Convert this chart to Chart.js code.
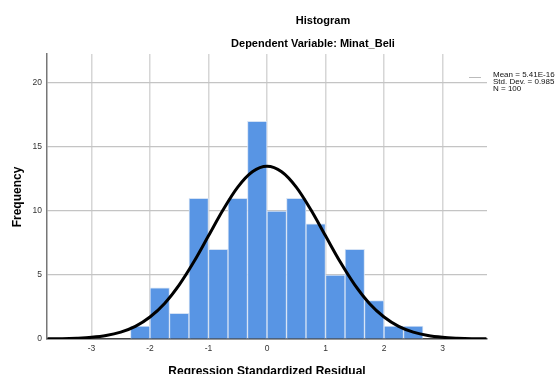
<!DOCTYPE html>
<html>
<head>
<meta charset="utf-8">
<script src="https://cdn.jsdelivr.net/npm/chart.js@4/dist/chart.umd.min.js"></script>
<style>
  html, body { margin: 0; padding: 0; background: #fff; }
  #wrap { width: 555px; height: 374px; }
</style>
</head>
<body>
<div id="wrap"><canvas id="hist" width="555" height="374"></canvas></div>
<script>
// histogram bins (centers of 1/3-wide bins) and counts
const binCenters = [-2.167, -1.833, -1.5, -1.167, -0.833, -0.5, -0.167, 0.167, 0.5, 0.833, 1.167, 1.5, 1.833, 2.167, 2.5];
const frequency = [1, 4, 2, 11, 7, 11, 17, 10, 11, 9, 5, 7, 3, 1, 1];

// normal curve
const curveX = [-3.75, -3.5, -3.25, -3, -2.75, -2.5, -2.25, -2, -1.75, -1.5, -1.25, -1, -0.75, -0.5, -0.25, 0,
                0.25, 0.5, 0.75, 1, 1.25, 1.5, 1.75, 2, 2.25, 2.5, 2.75, 3, 3.25, 3.5, 3.75];
const curveY = [0.01, 0.02, 0.06, 0.13, 0.27, 0.54, 0.99, 1.72, 2.78, 4.23, 6.03, 8.06, 10.1, 11.87, 13.07, 13.5,
                13.07, 11.87, 10.1, 8.06, 6.03, 4.23, 2.78, 1.72, 0.99, 0.54, 0.27, 0.13, 0.06, 0.02, 0.01];

const xTicks = [-3, -2, -1, 0, 1, 2, 3];
const yTicks = [0, 5, 10, 15, 20];

const statsText = ['Mean = 5.41E-16', 'Std. Dev. = 0.985', 'N = 100'];

const FONT = '"Liberation Sans", Arial, sans-serif';

const textPlugin = {
    id: 'texts',
    afterDraw(chart) {
        const ctx = chart.ctx;
        ctx.save();
        ctx.fillStyle = '#000';
        ctx.textAlign = 'center';
        ctx.textBaseline = 'middle';
        ctx.font = 'bold 11px ' + FONT;
        ctx.fillText('Histogram', 323, 21);
        ctx.fillText('Dependent Variable: Minat_Beli', 313, 44);

        ctx.font = 'bold 12px ' + FONT;
        ctx.fillText('Regression Standardized Residual', 267, 372);

        ctx.save();
        ctx.translate(18, 197);
        ctx.rotate(-Math.PI / 2);
        ctx.font = 'bold 12px ' + FONT;
        ctx.fillText('Frequency', 0, 0);
        ctx.restore();

        // stats box
        ctx.font = '8px ' + FONT;
        ctx.textAlign = 'left';
        ctx.fillStyle = '#111';
        statsText.forEach((t, i) => ctx.fillText(t, 493, 74.5 + i * 7));
        ctx.strokeStyle = '#bbb';
        ctx.lineWidth = 1;
        ctx.beginPath();
        ctx.moveTo(469, 77.5);
        ctx.lineTo(481, 77.5);
        ctx.stroke();
        ctx.restore();
    }
};

new Chart(document.getElementById('hist'), {
    type: 'bar',
    data: {
        datasets: [
            {
                type: 'line',
                data: curveX.map((x, i) => ({ x, y: curveY[i] })),
                borderColor: '#000',
                borderWidth: 3,
                pointRadius: 0,
                cubicInterpolationMode: 'monotone',
                fill: false,
                order: 0
            },
            {
                type: 'bar',
                data: binCenters.map((x, i) => ({ x, y: frequency[i] })),
                backgroundColor: '#5895e4',
                borderColor: '#d4e2f5',
                borderWidth: 1,
                borderSkipped: 'bottom',
                barPercentage: 1,
                categoryPercentage: 1,
                order: 1
            }
        ]
    },
    options: {
        responsive: false,
        animation: false,
        devicePixelRatio: 1,
        layout: { padding: { top: 54, right: 68, left: 0, bottom: 0 } },
        plugins: { legend: { display: false }, title: { display: false }, tooltip: { enabled: false } },
        scales: {
            x: {
                type: 'linear',
                min: -3.76,
                max: 3.76,
                offset: false,
                afterFit(s) { s.height = 35; },
                afterBuildTicks(s) { s.ticks = xTicks.map(v => ({ value: v })); },
                grid: { offset: false, color: '#d6d6d6', lineWidth: 1.5, drawTicks: false },
                border: { color: '#444', width: 1.5 },
                ticks: { padding: 5, color: '#333', font: { family: FONT, size: 8.5 } }
            },
            y: {
                min: 0,
                max: 22.27,
                afterFit(s) { s.width = 47; },
                afterBuildTicks(s) { s.ticks = yTicks.map(v => ({ value: v })); },
                grid: { color: '#c4c4c4', lineWidth: 1.2, drawTicks: false },
                border: { color: '#777', width: 1.5 },
                ticks: { padding: 5, color: '#333', font: { family: FONT, size: 8.5 } }
            }
        }
    },
    plugins: [textPlugin]
});
</script>
</body>
</html>
